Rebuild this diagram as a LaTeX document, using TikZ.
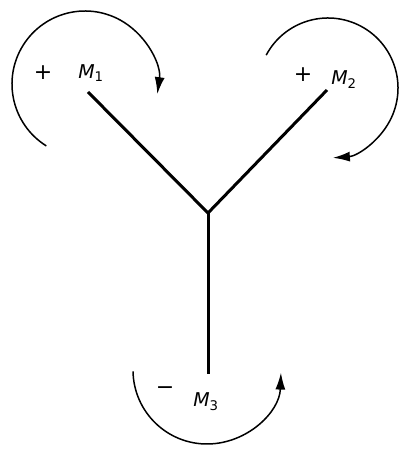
\documentclass[tikz,border=0pt]{standalone}
\usetikzlibrary{arrows.meta}
\usepackage{fontspec}
\setsansfont{DejaVu Sans}
\begin{document}
\begin{tikzpicture}[x=1pt,y=1pt,
  arm/.style={line width=3pt},
  moment/.style={line width=1.5pt,-{Latex[length=17pt,width=10pt]}},
  lbl/.style={font=\fontsize{19}{22}\selectfont\sffamily\itshape, inner sep=0pt},
  sgn/.style={font=\fontsize{22}{24}\selectfont\sffamily, inner sep=0pt}]
\useasboundingbox (0,0) rectangle (399,453);
\coordinate (J) at (208,240);
\coordinate (A) at (88,361);
\coordinate (B) at (327,363);
\coordinate (C) at (208,79);
\draw[arm] (A) -- (J) -- (B);
\draw[arm] (J) -- (C);
% M1
\node[sgn] (p1) at (43,380) {+};
\node[lbl] (m1) at (91,380) {M\textsubscript{\upshape 1}};
\draw[moment] (85,369) ++(238:73) arc[start angle=238, end angle=-8, radius=73];
% M2
\node[sgn] (p2) at (303,378) {+};
\node[lbl] (m2) at (344,373) {M\textsubscript{\upshape 2}};
\draw[moment] (328,365) ++(152:70) arc[start angle=152, end angle=-86, radius=70];
% M3
\node[sgn] (n3) at (165,62) {−};
\node[lbl] (m3) at (206,51) {M\textsubscript{\upshape 3}};
\draw[moment] (207,83) ++(181:74) arc[start angle=181, end angle=358, radius=74];
\end{tikzpicture}
\end{document}
